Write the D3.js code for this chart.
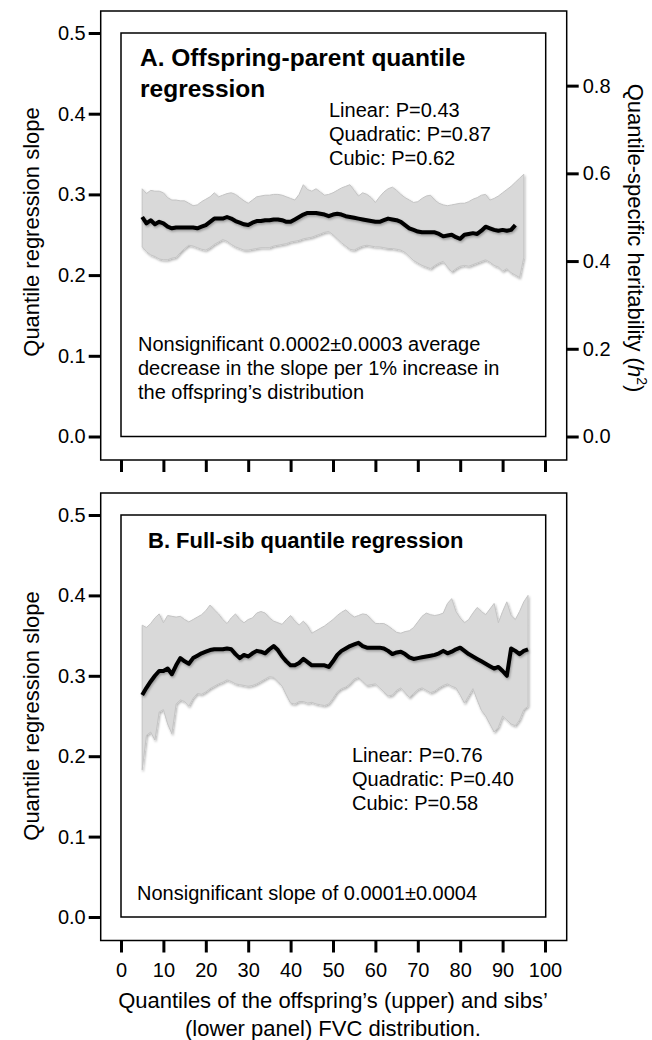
<!DOCTYPE html>
<html lang="en">
<head>
<meta charset="UTF-8">
<title>Quantile regression slopes</title>
<script src="https://d3js.org/d3.v7.min.js"></script>
<style>
  body { margin: 0; background: #fff; font-family: "Liberation Sans", Arial, sans-serif; }
  .tick text { font-size: 20px; fill: #000; }
  .tick line { stroke: #000; stroke-width: 3px; }
  .ann { font-size: 20px; fill: #000; }
  .ttl { font-weight: bold; fill: #000; }
  .axt { font-size: 22px; fill: #000; }
</style>
</head>
<body>
<div id="chart"></div>
<script>
// panel A: offspring-parent, quantiles 5..95 (line to 93)
const quantA = d3.range(5, 96);
const slopeA = [0.272,0.264,0.268,0.263,0.266,0.264,0.260,0.258,0.259,0.259,
  0.259,0.259,0.259,0.258,0.260,0.262,0.266,0.270,0.270,0.270,
  0.272,0.270,0.267,0.265,0.263,0.262,0.265,0.267,0.267,0.268,
  0.268,0.269,0.269,0.268,0.266,0.266,0.269,0.272,0.275,0.277,
  0.277,0.277,0.276,0.275,0.273,0.275,0.276,0.275,0.273,0.272,
  0.271,0.270,0.269,0.268,0.267,0.266,0.266,0.268,0.270,0.269,
  0.268,0.266,0.262,0.258,0.256,0.254,0.253,0.253,0.253,0.253,
  0.251,0.248,0.249,0.250,0.247,0.245,0.250,0.251,0.252,0.251,
  0.255,0.260,0.258,0.256,0.255,0.256,0.255,0.256,0.262];
const upperA = [0.307,0.301,0.305,0.304,0.304,0.302,0.296,0.293,0.293,0.292,
  0.292,0.289,0.286,0.287,0.291,0.294,0.297,0.302,0.297,0.299,
  0.301,0.302,0.300,0.296,0.292,0.289,0.293,0.297,0.298,0.299,
  0.299,0.300,0.300,0.299,0.297,0.295,0.293,0.300,0.312,0.306,
  0.304,0.307,0.303,0.299,0.300,0.302,0.305,0.308,0.310,0.312,
  0.305,0.298,0.302,0.300,0.296,0.290,0.297,0.303,0.307,0.309,
  0.305,0.300,0.296,0.293,0.290,0.291,0.295,0.298,0.299,0.293,
  0.289,0.287,0.286,0.287,0.288,0.289,0.289,0.291,0.294,0.296,
  0.299,0.300,0.293,0.295,0.298,0.302,0.306,0.310,0.315,0.320,0.325];
const lowerA = [0.235,0.229,0.225,0.223,0.220,0.219,0.219,0.221,0.222,0.228,
  0.233,0.237,0.236,0.234,0.232,0.231,0.234,0.238,0.241,0.244,
  0.242,0.238,0.235,0.233,0.231,0.231,0.232,0.233,0.234,0.234,
  0.234,0.236,0.237,0.238,0.239,0.241,0.242,0.243,0.245,0.246,
  0.247,0.249,0.251,0.253,0.254,0.250,0.245,0.240,0.236,0.232,
  0.231,0.234,0.236,0.237,0.236,0.235,0.235,0.234,0.233,0.233,
  0.232,0.231,0.228,0.223,0.218,0.215,0.212,0.210,0.208,0.212,
  0.215,0.217,0.210,0.204,0.208,0.211,0.212,0.211,0.213,0.215,
  0.217,0.219,0.216,0.212,0.210,0.205,0.208,0.203,0.200,0.197,0.222];

// panel B: full-sib, quantiles 5..96
const quantB = d3.range(5, 97);
const slopeB = [0.276,0.285,0.293,0.300,0.306,0.306,0.309,0.302,0.313,0.322,
  0.318,0.315,0.322,0.325,0.328,0.330,0.332,0.333,0.333,0.333,
  0.334,0.333,0.327,0.322,0.326,0.324,0.328,0.331,0.330,0.328,
  0.333,0.337,0.332,0.324,0.318,0.313,0.313,0.316,0.321,0.317,
  0.313,0.313,0.313,0.313,0.311,0.318,0.326,0.331,0.334,0.337,
  0.339,0.341,0.337,0.335,0.335,0.335,0.335,0.334,0.331,0.327,
  0.329,0.330,0.327,0.323,0.321,0.322,0.323,0.324,0.325,0.326,
  0.328,0.331,0.328,0.330,0.333,0.335,0.331,0.327,0.324,0.321,
  0.318,0.315,0.312,0.309,0.311,0.306,0.300,0.334,0.331,0.327,
  0.331,0.333];
const upperB = [0.363,0.360,0.365,0.372,0.377,0.366,0.375,0.374,0.373,0.374,
  0.370,0.367,0.370,0.373,0.376,0.381,0.388,0.382,0.377,0.370,
  0.365,0.372,0.377,0.370,0.366,0.370,0.372,0.378,0.380,0.378,
  0.372,0.368,0.366,0.364,0.370,0.375,0.368,0.363,0.368,0.362,
  0.353,0.356,0.359,0.362,0.366,0.370,0.375,0.379,0.382,0.377,
  0.373,0.375,0.377,0.376,0.370,0.365,0.365,0.365,0.362,0.358,
  0.354,0.353,0.355,0.356,0.360,0.367,0.374,0.378,0.376,0.375,
  0.376,0.378,0.390,0.396,0.380,0.372,0.366,0.370,0.378,0.385,
  0.380,0.376,0.383,0.390,0.366,0.380,0.392,0.375,0.370,0.380,
  0.392,0.400];
const lowerB = [0.183,0.226,0.230,0.220,0.255,0.258,0.240,0.228,0.265,0.270,
  0.268,0.262,0.272,0.278,0.277,0.280,0.284,0.287,0.290,0.292,
  0.295,0.293,0.290,0.289,0.288,0.287,0.288,0.290,0.293,0.296,
  0.299,0.298,0.293,0.287,0.276,0.266,0.265,0.268,0.268,0.266,
  0.267,0.265,0.264,0.263,0.265,0.272,0.280,0.284,0.286,0.290,
  0.296,0.298,0.293,0.288,0.289,0.290,0.285,0.280,0.275,0.276,
  0.282,0.285,0.279,0.273,0.278,0.283,0.285,0.282,0.279,0.281,
  0.285,0.288,0.290,0.287,0.285,0.276,0.266,0.275,0.284,0.270,
  0.257,0.250,0.240,0.230,0.236,0.250,0.245,0.240,0.238,0.245,
  0.258,0.262];

const slopeTicks = [0, 0.1, 0.2, 0.3, 0.4, 0.5];
const h2Ticks = [0, 0.2, 0.4, 0.6, 0.8];
const xTicks = d3.range(0, 101, 10);

const W = 652, H = 1040;
const svg = d3.select("#chart").append("svg").attr("width", W).attr("height", H);

const defs = svg.append("defs");
const f = defs.append("filter").attr("id", "sh").attr("x", "-5%").attr("y", "-20%").attr("width", "110%").attr("height", "140%");
f.append("feDropShadow").attr("dx", 1).attr("dy", 1.5).attr("stdDeviation", 1.2)
  .attr("flood-color", "#000").attr("flood-opacity", 0.3);

const x = d3.scaleLinear().domain([0, 100]).range([121, 545]);

function panel(p) {
  const y = d3.scaleLinear().domain([0, 0.5]).range([p.bottom, p.top]);
  const g = svg.append("g");

  // outer frame and inner box
  g.append("rect").attr("x", 100.7).attr("y", p.top - 22).attr("width", 566.7 - 100.7)
    .attr("height", p.bottom + 23.5 - (p.top - 22))
    .attr("fill", "none").attr("stroke", "#000").attr("stroke-width", 1.5);
  g.append("rect").attr("x", 121).attr("y", p.top).attr("width", 424.7)
    .attr("height", p.bottom - p.top)
    .attr("fill", "none").attr("stroke", "#000").attr("stroke-width", 1.5);

  const band = p.q.map((q, i) => ({q: q, lo: p.lo[i], hi: p.hi[i]}));
  g.append("path").datum(band)
    .attr("d", d3.area().x(d => x(d.q)).y0(d => y(d.lo)).y1(d => y(d.hi)))
    .attr("fill", "#d9d9d9").attr("stroke", "#c4c4c4").attr("stroke-width", 1)
    .attr("filter", "url(#sh)");

  const pts = p.slope.map((s, i) => ({q: p.q[i], s: s}));
  g.append("path").datum(pts)
    .attr("d", d3.line().x(d => x(d.q)).y(d => y(d.s)))
    .attr("fill", "none").attr("stroke", "#000").attr("stroke-width", 4)
    .attr("stroke-linejoin", "round").attr("filter", "url(#sh)");

  // left axis
  const la = g.append("g").attr("transform", "translate(100.7,0)")
    .call(d3.axisLeft(y).tickValues(slopeTicks).tickFormat(d3.format(".1f")).tickSize(12).tickPadding(3));
  la.select(".domain").remove();

  // bottom ticks
  const ba = g.append("g").attr("transform", `translate(0,${p.bottom + 23.5})`)
    .call(d3.axisBottom(x).tickValues(xTicks).tickSize(12).tickPadding(7)
      .tickFormat(p.xlabels ? d3.format("d") : ""));
  ba.select(".domain").remove();
  ba.selectAll("text").attr("dy", "0.85em");

  if (p.h2) {
    const y2 = d3.scaleLinear().domain([0, 0.92]).range([p.bottom, p.top]);
    const ra = g.append("g").attr("transform", "translate(566.7,0)")
      .call(d3.axisRight(y2).tickValues(h2Ticks).tickFormat(d3.format(".1f")).tickSize(12).tickPadding(4));
    ra.select(".domain").remove();
  }

  g.append("text").attr("class", "axt").attr("text-anchor", "middle")
    .attr("transform", `translate(31,${p.ytc}) rotate(-90)`).attr("dy", "0.35em")
    .text("Quantile regression slope");

  p.title.forEach((t, i) => g.append("text").attr("class", "ttl")
    .attr("font-size", p.titleSize + "px")
    .attr("x", p.titleX).attr("y", p.titleY + i * 31).text(t));
  p.stats.forEach((t, i) => g.append("text").attr("class", "ann")
    .attr("x", p.statsX).attr("y", p.statsY + i * 24).text(t));
  p.note.forEach((t, i) => g.append("text").attr("class", "ann")
    .attr("x", p.noteX).attr("y", p.noteY + i * 24).text(t));
}

panel({
  q: quantA, slope: slopeA, lo: lowerA, hi: upperA, top: 33, bottom: 436.5, h2: true, xlabels: false,
  ytc: 232,
  title: ["A. Offspring-parent quantile", "regression"], titleX: 140, titleY: 66, titleSize: 24.5,
  stats: ["Linear: P=0.43", "Quadratic: P=0.87", "Cubic: P=0.62"], statsX: 329, statsY: 117,
  note: ["Nonsignificant 0.0002\u00b10.0003 average", "decrease in the slope per 1% increase in",
    "the offspring\u2019s distribution"], noteX: 138, noteY: 351
});

panel({
  q: quantB, slope: slopeB, lo: lowerB, hi: upperB, top: 515, bottom: 917, h2: false, xlabels: true,
  ytc: 716,
  title: ["B. Full-sib quantile regression"], titleX: 148, titleY: 548, titleSize: 22,
  stats: ["Linear: P=0.76", "Quadratic: P=0.40", "Cubic: P=0.58"], statsX: 352, statsY: 762,
  note: ["Nonsignificant slope of 0.0001\u00b10.0004"], noteX: 137, noteY: 900
});

// right axis title
const rt = svg.append("text").attr("class", "axt").attr("text-anchor", "middle")
  .attr("transform", "translate(636,238) rotate(90)").attr("dy", "0.35em");
rt.append("tspan").text("Quantile-specific heritability (");
rt.append("tspan").attr("font-style", "italic").text("h");
rt.append("tspan").attr("font-size", "14px").attr("dy", "-0.6em").text("2");
rt.append("tspan").attr("dy", "0.4em").text(")");

// x axis title
svg.append("text").attr("class", "axt").attr("text-anchor", "middle")
  .attr("x", 333).attr("y", 1008).text("Quantiles of the offspring\u2019s (upper) and sibs\u2019");
svg.append("text").attr("class", "axt").attr("text-anchor", "middle")
  .attr("x", 333).attr("y", 1036).text("(lower panel) FVC distribution.");
</script>
</body>
</html>
